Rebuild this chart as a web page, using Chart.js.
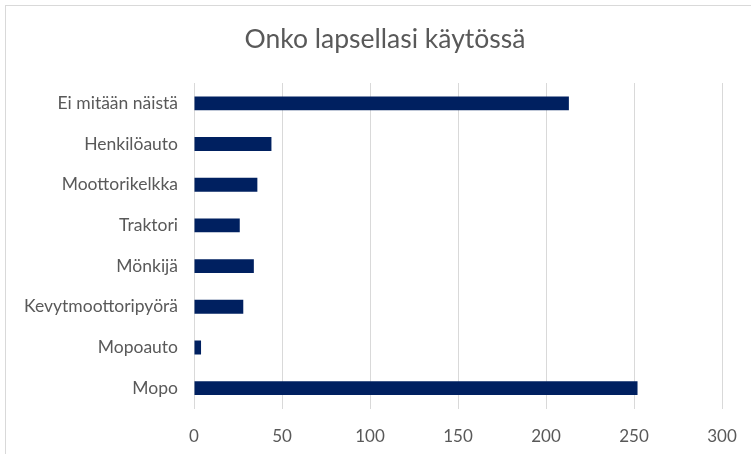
<!DOCTYPE html>
<html><head><meta charset="utf-8">
<script src="https://cdn.jsdelivr.net/npm/chart.js@4.4.0/dist/chart.umd.min.js"></script>
<style>
html,body{margin:0;padding:0;background:#fff;overflow:hidden}
#wrap{position:absolute;left:0;top:0;width:751px;height:454px;overflow:hidden}
#frame{position:absolute;left:5px;top:5px;width:760px;height:460px;border:1px solid #d9d9d9;box-sizing:border-box}
canvas{position:absolute;left:0;top:0}
</style></head>
<body><div id="wrap"><div id="frame"></div><canvas id="c" width="780" height="454"></canvas></div>
<script>
const title = "Onko lapsellasi käytössä";
const categories = ["Ei mitään näistä","Henkilöauto","Moottorikelkka","Traktori","Mönkijä","Kevytmoottoripyörä","Mopoauto","Mopo"];
const values = [213, 44, 36, 26, 34, 28, 4, 252];
const xTicks = [0, 50, 100, 150, 200, 250, 300];

const fontFam = "Lato, 'Open Sans', sans-serif";
new Chart(document.getElementById('c'), {
  type: 'bar',
  data: { labels: categories, datasets: [{ data: values, backgroundColor: '#002060', barPercentage: 0.34, categoryPercentage: 1.0 }] },
  options: {
    indexAxis: 'y', responsive: false, animation: false,
    layout: { padding: { left: 0, right: 10, top: 0, bottom: 0 } },
    plugins: {
      legend: { display: false }, tooltip: { enabled: false },
      title: { display: true, text: title, color: '#595959', font: { family: fontFam, size: 26.5, weight: 'normal', lineHeight: 1.2 }, padding: { top: 24, bottom: 27.2 } }
    },
    scales: {
      x: {
        min: xTicks[0], max: xTicks[xTicks.length-1],
        afterBuildTicks: s => { s.ticks = xTicks.map(v => ({ value: v })); },
        afterFit: s => { s.height = 45.5; },
        grid: { color: '#d9d9d9', lineWidth: 1, drawTicks: false },
        border: { display: false },
        ticks: { color: '#595959', font: { family: fontFam, size: 17 }, padding: 18 }
      },
      y: {
        afterFit: s => { s.width = 194; },
        grid: { display: false, drawTicks: false },
        border: { display: false },
        ticks: { color: '#595959', font: { family: fontFam, size: 17.5 }, padding: 16 }
      },
      spacer: {
        type: 'category', labels: [''], position: 'right',
        afterFit: s => { s.width = 48; },
        grid: { display: false, drawTicks: false },
        border: { display: false },
        ticks: { display: false }
      }
    }
  }
});
</script></body></html>
